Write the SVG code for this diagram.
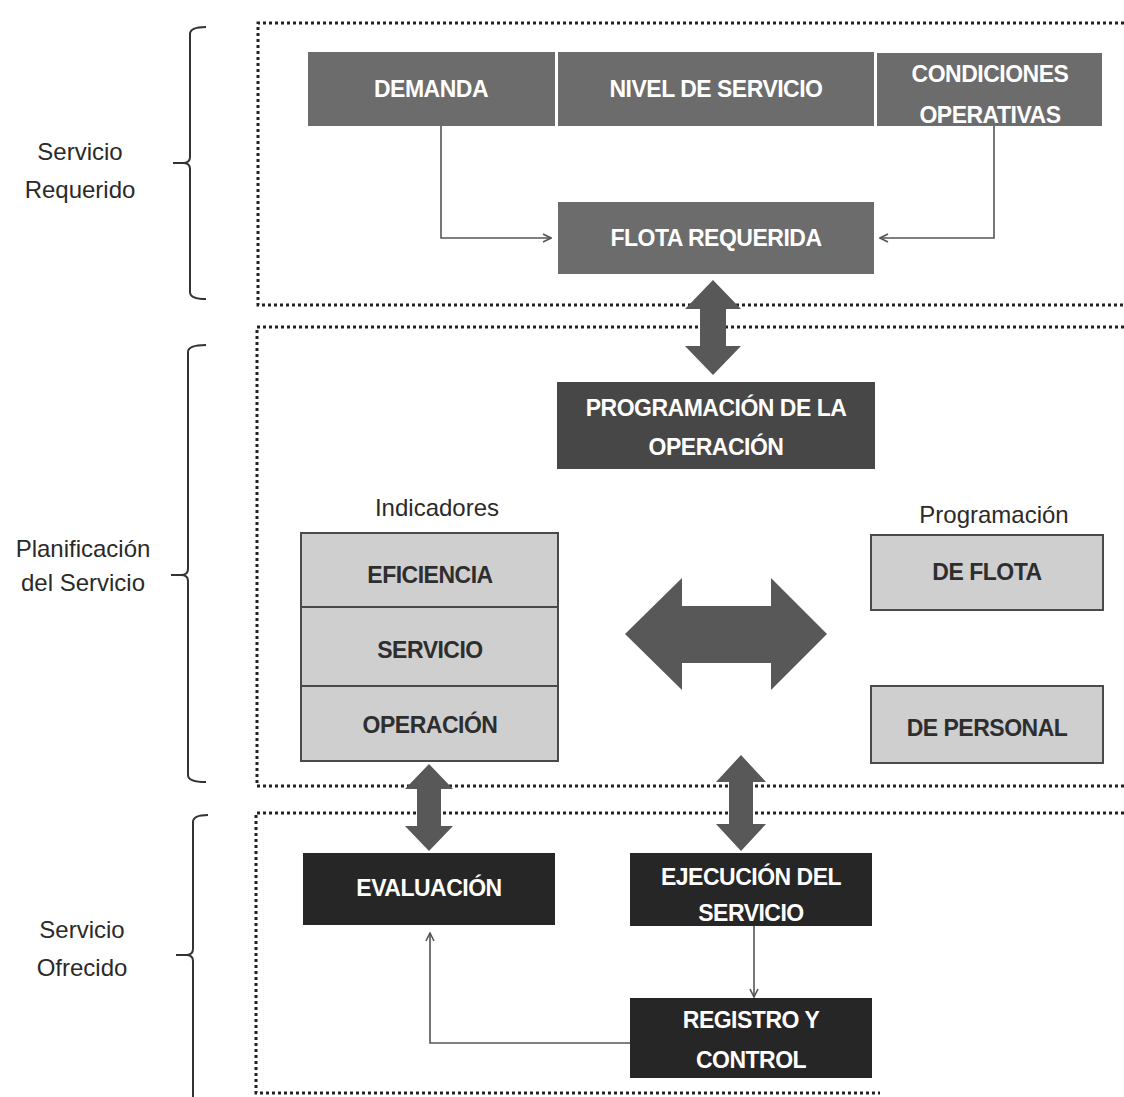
<svg xmlns="http://www.w3.org/2000/svg" width="1124" height="1097" viewBox="0 0 1124 1097">
<style>
.lbl{font-family:"Liberation Sans",Arial,sans-serif;font-size:24px;fill:#2a2a2a;text-anchor:middle}
.bt{font-family:"Liberation Sans",Arial,sans-serif;font-size:23px;font-weight:bold;text-anchor:middle;letter-spacing:-0.5px}
.w{fill:#ffffff}
.d{fill:#2e2e2e}
.g1{fill:#6c6c6c}
.g2{fill:#474747}
.g3{fill:#262626}
.lt{fill:#cfcfcf;stroke:#4a4a4a;stroke-width:2}
.dot{fill:none;stroke:#222;stroke-width:3;stroke-dasharray:3 3}
.brace{fill:none;stroke:#333;stroke-width:2}
.con{fill:none;stroke:#555;stroke-width:1.6}
.big{fill:#585858}
</style>
<defs>
<marker id="chev" viewBox="0 0 10 10" refX="9" refY="5" markerWidth="10" markerHeight="10" markerUnits="userSpaceOnUse" orient="auto">
<path d="M1,1 L9,5 L1,9" fill="none" stroke="#555" stroke-width="1.6"/>
</marker>
</defs>

<g id="frames">
<path class="dot" d="M1124,23 H258 V305 H1124"/>
<path class="dot" d="M1124,327 H257 V786 H1124"/>
<path class="dot" d="M1124,813 H256 V1093 H880"/>
</g>

<g id="braces">
<path class="brace" d="M206,27 Q190,27 190,34 V157 Q190,163 183,163 H173 M183,163 Q190,163 190,169 V292 Q190,299 206,299"/>
<path class="brace" d="M206,345 Q188,345 188,352 V569 Q188,575 181,575 H171 M181,575 Q188,575 188,581 V775 Q188,782 206,782"/>
<path class="brace" d="M208,815 Q193,815 193,822 V949 Q193,955 186,955 H176 M186,955 Q193,955 193,961 V1097"/>
</g>

<g id="labels">
<text class="lbl" x="80" y="160">Servicio</text>
<text class="lbl" x="80" y="198">Requerido</text>
<text class="lbl" x="83" y="557">Planificación</text>
<text class="lbl" x="83" y="591">del Servicio</text>
<text class="lbl" x="82" y="938">Servicio</text>
<text class="lbl" x="82" y="976">Ofrecido</text>
<text class="lbl" x="437" y="516">Indicadores</text>
<text class="lbl" x="994" y="523">Programación</text>
</g>

<g id="connectors">
<path class="con" d="M441,126 V238 H551" marker-end="url(#chev)"/>
<path class="con" d="M994,126 V238 H880" marker-end="url(#chev)"/>
<path class="con" d="M754,926 V997" marker-end="url(#chev)"/>
<path class="con" d="M630,1043 H430 V933" marker-end="url(#chev)"/>
<polygon class="big" points="713,280 741,309 726,309 726,346 741,346 713,375 685,346 700,346 700,309 685,309"/>
<polygon class="big" points="625,634 682,578 682,606 771,606 771,578 827,634 771,690 771,663 682,663 682,690"/>
<polygon class="big" points="429,764 453,789 441,789 441,826 453,826 429,851 405,826 417,826 417,789 405,789"/>
<polygon class="big" points="741,755 766,782 753,782 753,824 766,824 741,851 716,824 729,824 729,782 716,782"/>
</g>

<g id="demanda">
<rect class="g1" x="308" y="52" width="247" height="74"/>
<text class="bt w" x="431" y="97">DEMANDA</text>
</g>
<g id="nivel-servicio">
<rect class="g1" x="558" y="52" width="316" height="74"/>
<text class="bt w" x="716" y="97">NIVEL DE SERVICIO</text>
</g>
<g id="condiciones">
<rect class="g1" x="877" y="53" width="225" height="73"/>
<text class="bt w" x="990" y="82">CONDICIONES</text>
<text class="bt w" x="990" y="123">OPERATIVAS</text>
</g>
<g id="flota-requerida">
<rect class="g1" x="558" y="202" width="316" height="72"/>
<text class="bt w" x="716" y="246">FLOTA REQUERIDA</text>
</g>
<g id="programacion-operacion">
<rect class="g2" x="557" y="382" width="318" height="87"/>
<text class="bt w" x="716" y="416">PROGRAMACIÓN DE LA</text>
<text class="bt w" x="716" y="455">OPERACIÓN</text>
</g>
<g id="eficiencia">
<rect class="lt" x="301" y="533" width="257" height="74"/>
<text class="bt d" x="430" y="583">EFICIENCIA</text>
</g>
<g id="servicio">
<rect class="lt" x="301" y="607" width="257" height="79"/>
<text class="bt d" x="430" y="658">SERVICIO</text>
</g>
<g id="operacion">
<rect class="lt" x="301" y="686" width="257" height="75"/>
<text class="bt d" x="430" y="733">OPERACIÓN</text>
</g>
<g id="de-flota">
<rect class="lt" x="871" y="535" width="232" height="75"/>
<text class="bt d" x="987" y="580">DE FLOTA</text>
</g>
<g id="de-personal">
<rect class="lt" x="871" y="686" width="232" height="77"/>
<text class="bt d" x="987" y="736">DE PERSONAL</text>
</g>
<g id="evaluacion">
<rect class="g3" x="303" y="853" width="252" height="72"/>
<text class="bt w" x="429" y="896">EVALUACIÓN</text>
</g>
<g id="ejecucion">
<rect class="g3" x="630" y="853" width="242" height="73"/>
<text class="bt w" x="751" y="885">EJECUCIÓN DEL</text>
<text class="bt w" x="751" y="921">SERVICIO</text>
</g>
<g id="registro">
<rect class="g3" x="630" y="998" width="242" height="80"/>
<text class="bt w" x="751" y="1028">REGISTRO Y</text>
<text class="bt w" x="751" y="1068">CONTROL</text>
</g>
</svg>
